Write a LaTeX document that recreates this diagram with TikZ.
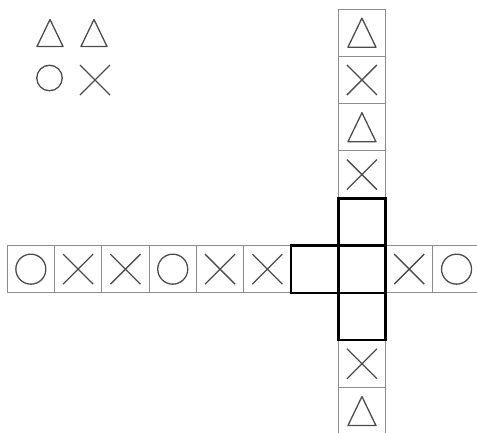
\documentclass[tikz,border=0pt]{standalone}
\begin{document}
\begin{tikzpicture}[x=1pt,y=-1pt,
  cellbox/.style={draw=black!45,line width=0.9pt},
  boldbox/.style={draw=black,line width=2.6pt},
  sym/.style={draw=black!70,line width=1.3pt,line join=round},
  tri/.pic={\draw[sym] (0,-14.5) -- (14,14.5) -- (-14,14.5) -- cycle;},
  crs/.pic={\draw[sym] (-15,-15) -- (15,15) (-15,15) -- (15,-15);},
  circ/.pic={\draw[sym] (0,0) circle[radius=15];}
]
\def\s{47.3}
\def\cx{338.3}
\def\cy{245.5}
\useasboundingbox (0,0) rectangle (477,432);
\clip (0,0) rectangle (477,432);
% horizontal row cells
\foreach \i in {-7,...,2}{
  \draw[cellbox] ({\cx+(\i)*\s},\cy) rectangle +(\s,\s);
}
% vertical column cells
\foreach \j in {-5,...,3}{
  \draw[cellbox] (\cx,{\cy+(\j)*\s}) rectangle +(\s,\s);
}
% row symbols
\foreach \i/\p in {-7/circ,-6/crs,-5/crs,-4/circ,-3/crs,-2/crs,1/crs,2/circ}{
  \pic at ({\cx+(\i+0.5)*\s},{\cy+0.5*\s}) {\p};
}
% column symbols
\foreach \j/\p in {-5/tri,-4/crs,-3/tri,-2/crs,2/crs,3/tri}{
  \pic at ({\cx+0.5*\s},{\cy+(\j+0.5)*\s}) {\p};
}
% bold cross
\foreach \i/\j in {0/-1,-1/0,0/0,0/1}{
  \draw[boldbox] ({\cx+(\i)*\s},{\cy+(\j)*\s}) rectangle +(\s,\s);
}
% legend
\pic[scale=0.93] at (50,33) {tri};
\pic[scale=0.93] at (94,33) {tri};
\pic[scale=0.85] at (49.5,78) {circ};
\pic at (95,80) {crs};
\end{tikzpicture}
\end{document}
